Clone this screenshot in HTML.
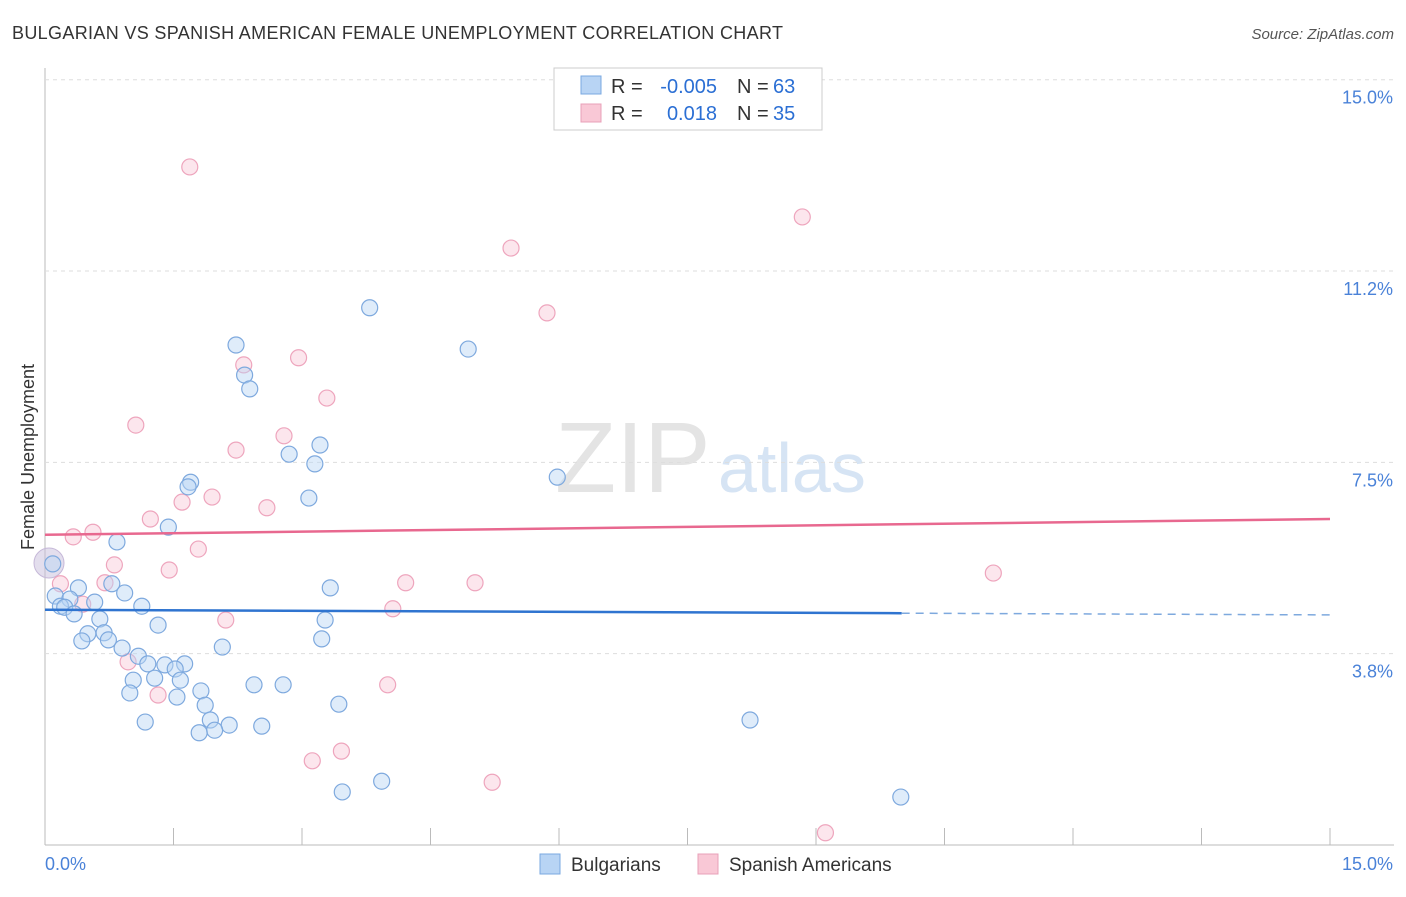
<!DOCTYPE html>
<html><head><meta charset="utf-8"><style>
body{margin:0;background:#fff;font-family:"Liberation Sans",sans-serif}
svg text{font-family:"Liberation Sans",sans-serif}
</style></head><body>
<svg width="1406" height="892" id="c">
<text x="12" y="39" font-size="18" fill="#333" textLength="771">BULGARIAN VS SPANISH AMERICAN FEMALE UNEMPLOYMENT CORRELATION CHART</text>
<text x="1394" y="39" font-size="15" fill="#555" font-style="italic" text-anchor="end">Source: ZipAtlas.com</text>
<text x="555" y="492" font-size="100" fill="#e4e4e4" font-family="Liberation Serif">ZIP</text>
<text x="718" y="492" font-size="70" fill="#d6e4f4">atlas</text>
<text transform="translate(34,457) rotate(-90)" font-size="18" fill="#333" text-anchor="middle">Female Unemployment</text>
<g id="grid"></g><g id="pts"></g><g id="trend"></g>
<g>
<rect x="554" y="68" width="268" height="62" fill="#fff" stroke="#ccc"/>
<rect x="581" y="76" width="20" height="18" fill="#b8d4f4" stroke="#7aa8e0"/>
<rect x="581" y="104" width="20" height="18" fill="#f9c8d6" stroke="#e8a0b8"/>
<text x="611" y="93" font-size="20" fill="#333">R =</text>
<text x="717" y="93" font-size="20" fill="#2b6fd4" text-anchor="end">-0.005</text>
<text x="737" y="93" font-size="20" fill="#333">N =</text>
<text x="773" y="93" font-size="20" fill="#2b6fd4">63</text>
<text x="611" y="120" font-size="20" fill="#333">R =</text>
<text x="717" y="120" font-size="20" fill="#2b6fd4" text-anchor="end">0.018</text>
<text x="737" y="120" font-size="20" fill="#333">N =</text>
<text x="773" y="120" font-size="20" fill="#2b6fd4">35</text>
</g>
<g>
<rect x="540" y="854" width="20" height="20" fill="#b8d4f4" stroke="#7aa8e0"/>
<text x="571" y="871" font-size="19" fill="#333">Bulgarians</text>
<rect x="698" y="854" width="20" height="20" fill="#f9c8d6" stroke="#e8a0b8"/>
<text x="729" y="871" font-size="19" fill="#333">Spanish Americans</text>
</g>
</svg>
<script>
const xTicks=[0,1.5,3,4.5,6,7.5,9,10.5,12,13.5,15];
const yTicks=[3.75,7.5,11.25,15.0];
const yTickLabels=["3.8%","7.5%","11.2%","15.0%"];
const blueX=[2.23,3.79,4.94,2.33,2.39,3.21,2.85,3.15,1.70,1.67,3.08,5.98,1.44,0.84,0.09,0.78,0.39,3.33,0.93,0.12,0.29,0.58,1.13,0.18,0.23,0.34,0.64,3.27,1.32,0.50,0.69,0.74,0.43,3.23,2.07,0.90,1.09,1.20,1.40,1.63,1.52,1.28,1.58,1.03,1.82,2.44,2.78,0.99,1.54,1.87,3.43,1.17,1.93,8.23,2.15,2.53,1.98,1.80,3.93,3.47,9.99];
const blueY=[9.80,10.53,9.72,9.21,8.94,7.84,7.66,7.47,7.11,7.02,6.80,7.21,6.23,5.94,5.51,5.12,5.04,5.04,4.94,4.88,4.82,4.76,4.68,4.68,4.66,4.53,4.43,4.41,4.31,4.14,4.16,4.02,4.00,4.04,3.88,3.86,3.70,3.55,3.53,3.55,3.45,3.27,3.23,3.23,3.02,3.14,3.14,2.98,2.90,2.74,2.76,2.41,2.45,2.45,2.35,2.33,2.25,2.20,1.25,1.04,0.94];
const pinkX=[1.69,8.84,5.44,5.86,2.96,2.32,3.29,1.06,2.79,2.23,1.95,1.60,2.59,1.23,0.56,0.33,1.79,0.81,1.45,0.70,0.18,4.21,5.02,11.07,4.06,0.44,2.11,0.97,1.32,4.00,3.46,3.12,5.22,9.11];
const pinkY=[13.29,12.31,11.70,10.43,9.55,9.41,8.76,8.23,8.02,7.74,6.82,6.72,6.61,6.39,6.13,6.04,5.80,5.49,5.39,5.14,5.12,5.14,5.14,5.33,4.63,4.72,4.41,3.59,2.94,3.14,1.84,1.65,1.23,0.24];
const blueTrend=[4.61,4.51], pinkTrend=[6.08,6.39];
const X=v=>45+v/15*1285, Y=v=>845-v*51.02;
const NS='http://www.w3.org/2000/svg';
function mk(t,a,p){const e=document.createElementNS(NS,t);for(const k in a)e.setAttribute(k,a[k]);p.appendChild(e);return e;}
const g=document.getElementById('grid');
let ax=mk('line',{x1:45,y1:68,x2:45,y2:845,stroke:'#bbb'},g);

let bx=mk('line',{x1:45,y1:845,x2:1394,y2:845,stroke:'#bbb'},g);

yTicks.forEach((v,i)=>{let l=mk('line',{x1:45,y1:Y(v),x2:1394,y2:Y(v),stroke:'#ddd','stroke-dasharray':'4,4'},g);

let t=mk('text',{x:1393,y:Y(v)+24,'font-size':18,fill:'#4a82d8','text-anchor':'end'},g);t.textContent=yTickLabels[i];
});
xTicks.forEach(v=>{let l=mk('line',{x1:X(v),y1:828,x2:X(v),y2:845,stroke:'#bbb'},g);
});
let t0=mk('text',{x:45,y:870,'font-size':18,fill:'#4a82d8'},g);t0.textContent='0.0%';

let t1=mk('text',{x:1393,y:870,'font-size':18,fill:'#4a82d8','text-anchor':'end'},g);t1.textContent='15.0%';

const p=document.getElementById('pts');
let big=mk('circle',{cx:49,cy:563,r:15,fill:'rgba(200,190,220,0.5)',stroke:'#c6b8d8'},p);

pinkX.forEach((v,i)=>{let c=mk('circle',{cx:X(v),cy:Y(pinkY[i]),r:8,fill:'rgba(249,200,214,0.45)',stroke:'#eea5bd','stroke-width':1.2},p);
});
blueX.forEach((v,i)=>{let c=mk('circle',{cx:X(v),cy:Y(blueY[i]),r:8,fill:'rgba(184,212,244,0.45)',stroke:'#7ea9de','stroke-width':1.2},p);
});
const tr=document.getElementById('trend');
const bAt=x=>blueTrend[0]+(blueTrend[1]-blueTrend[0])*x/15;
let l1=mk('line',{x1:X(0),y1:Y(bAt(0)),x2:X(10),y2:Y(bAt(10)),stroke:'#2f74d0','stroke-width':2.5},tr);

let l2=mk('line',{x1:X(10),y1:Y(bAt(10)),x2:X(15),y2:Y(bAt(15)),stroke:'#7ea9de','stroke-width':1.5,'stroke-dasharray':'8,6'},tr);

let l3=mk('line',{x1:X(0),y1:Y(pinkTrend[0]),x2:X(15),y2:Y(pinkTrend[1]),stroke:'#e8688f','stroke-width':2.5},tr);

</script>
</body></html>
